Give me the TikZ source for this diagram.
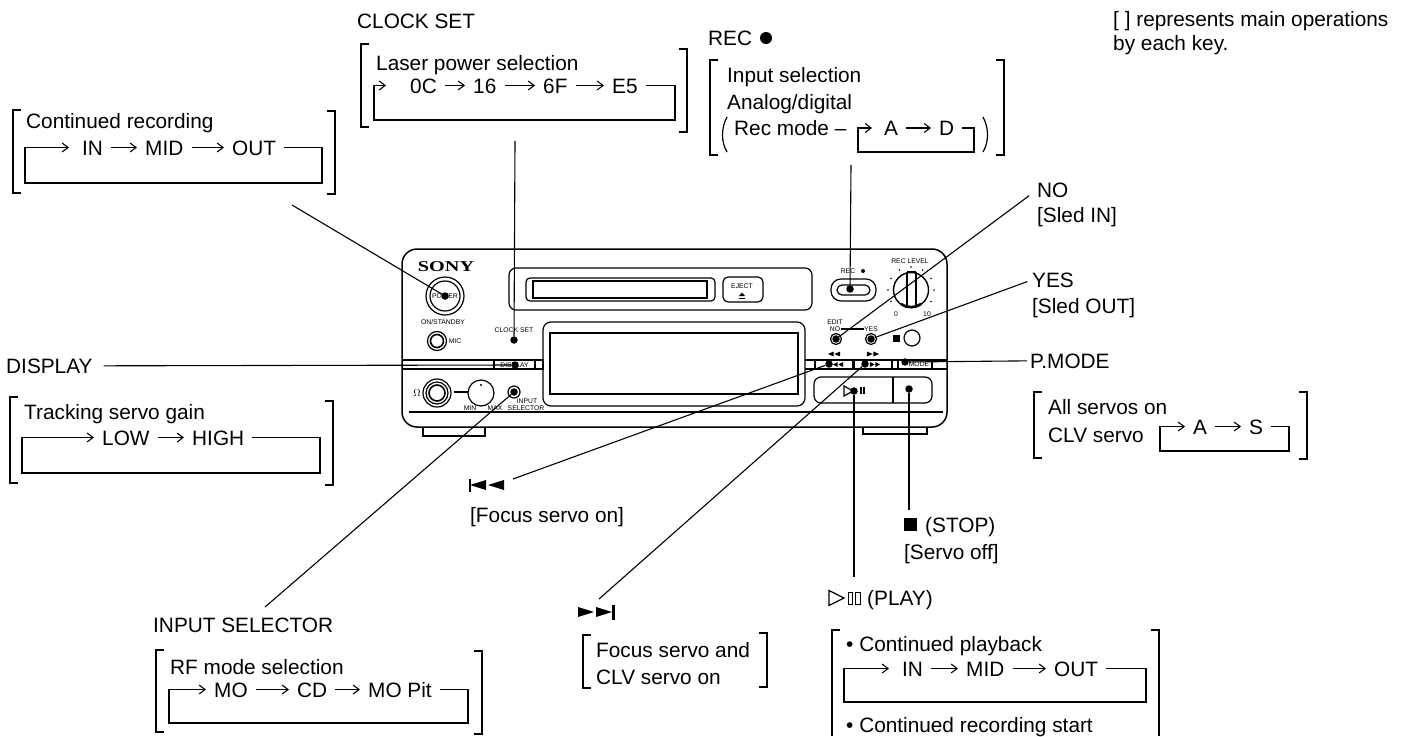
\documentclass[tikz,border=0pt]{standalone}
\usepackage{fontspec}
\setmainfont{Liberation Sans}
\newfontfamily\sonyfont{Liberation Serif}
\usetikzlibrary{arrows.meta}
\tikzstyle{lab}=[anchor=base west, inner sep=0pt, font=\fontsize{20.8}{24}\selectfont]
\tikzstyle{val}=[anchor=base west, inner xsep=8pt, inner ysep=0pt, text height=15pt, text depth=0pt,
  font=\fontsize{20.8}{24}\selectfont]
\tikzstyle{mini}=[inner sep=0pt, font=\fontsize{6.8}{8}\selectfont]
\tikzstyle{flow}=[-{Straight Barb[length=6pt,width=9pt]}, line width=1.1pt]
\tikzstyle{brk}=[line width=1.2pt]
\tikzstyle{lead}=[line width=1.1pt]
\tikzstyle{body}=[line width=1.2pt]
\tikzstyle{btn}=[circle, fill=black, inner sep=0pt, minimum size=7.5pt]
\tikzset{twinhead/.pic={
  \fill (-17,-5) -- (-1,0) -- (-17,5) -- cycle;
  \fill (1,-5) -- (17,0) -- (1,5) -- cycle;}}

\begin{document}
\begin{tikzpicture}[x=1pt,y=-1pt]
\useasboundingbox (0,0) rectangle (1407,736);

% square brackets round the notes
\foreach \l/\t/\b/\r/\u/\d in {13/110/193/335/111/194, 361/44/127/687/49/132, 710/60/155/1004/60/155,
    10/397/483/333/401/485, 156/650/732/482/651/734, 1034/392/458/1307/392/459, 583/635/688/767/633/687} {
  \draw[brk] (\l+8,\t) -- (\l,\t) -- (\l,\b) -- (\l+8,\b);
  \draw[brk] (\r-8,\u) -- (\r,\u) -- (\r,\d) -- (\r-8,\d);
}
\draw[brk] (840,630) -- (832,630) -- (832,736);
\draw[brk] (1151,630) -- (1159,630) -- (1159,736);

% continued recording note
\node[lab] (recT) at (26,128) {Continued recording};
\foreach \n/\x/\t in {recI/74/IN, recM/137/MID, recO/224/OUT}
  \node[val] (\n) at (\x,155) {\t};
\foreach \a/\b in {recI/recM, recM/recO} \draw[flow] (\a) -- (\b);
\coordinate (recSE) at (322,183);
\coordinate (recSW) at (25,183);
\draw[flow,shorten >=5pt] (recO.east) -| (recSE) -- (recSW) |- (recI.west);

% clock set note
\node[lab] (clkL) at (357,28) {CLOCK SET};
\node[lab] (clkT) at (376,70) {Laser power selection};
\foreach \n/\x/\t in {clkA/402/0C, clkB/465/16, clkC/535/6F, clkD/604/E5}
  \node[val] (\n) at (\x,93) {\t};
\foreach \a/\b in {clkA/clkB, clkB/clkC, clkC/clkD} \draw[flow] (\a) -- (\b);
\coordinate (clkSE) at (675,120);
\coordinate (clkSW) at (374,120);
\draw[flow,shorten >=16pt] (clkD.east) -| (clkSE) -- (clkSW) |- (clkA.west);

% rec note
\node[lab] (rcL) at (708,45) {REC};
\node[circle,fill=black,inner sep=0pt,minimum size=12pt] (rcDot) at (766,38) {};
\node[lab] (rcT) at (727,82) {Input selection};
\node[lab] (rcU) at (727,109) {Analog/digital};
\node[lab] (rcV) at (734,135) {Rec mode --};
\foreach \n/\x/\t in {rcA/876/A, rcD/931/D}
  \node[val] (\n) at (\x,135.5) {\t};
\draw[flow] (rcA) -- (rcD);
\coordinate (rcSE) at (974,152);
\coordinate (rcSW) at (858,152);
\draw[flow,shorten >=4pt] (rcD.east) -| (rcSE) -- (rcSW) |- (rcA.west);
\draw[brk] (727,117) .. controls (721,128) and (721,142) .. (727,152);
\draw[brk] (983,117) .. controls (989,128) and (989,142) .. (983,152);

% remark
\node[lab] (remA) at (1113,27) {[ ] represents main operations};
\node[lab] (remB) at (1113,50) {by each key.};

% right side labels
\node[lab] (labNo) at (1037,197) {NO};
\node[lab] (labNoS) at (1037,222) {[Sled IN]};
\node[lab] (labYes) at (1032,287) {YES};
\node[lab] (labYesS) at (1032,313) {[Sled OUT]};
\node[lab] (labMode) at (1030,368) {P.MODE};

% p.mode note
\node[lab] (modT) at (1048,414) {All servos on};
\node[lab] (modU) at (1048,442) {CLV servo};
\foreach \n/\x/\t in {modA/1185/A, modS/1241/S}
  \node[val] (\n) at (\x,434) {\t};
\draw[flow] (modA) -- (modS);
\coordinate (modSE) at (1289,451);
\coordinate (modSW) at (1160,451);
\draw[flow] (modS.east) -| (modSE) -- (modSW) |- (modA.west);

% display note
\node[lab] (labDisp) at (6,373) {DISPLAY};
\node[lab] (trkT) at (24,419) {Tracking servo gain};
\foreach \n/\x/\t in {trkL/94/LOW, trkH/184/HIGH}
  \node[val] (\n) at (\x,445) {\t};
\draw[flow] (trkL) -- (trkH);
\coordinate (trkSE) at (320,473);
\coordinate (trkSW) at (22,473);
\draw[flow] (trkH.east) -| (trkSE) -- (trkSW) |- (trkL.west);

% input selector note
\node[lab] (labInp) at (153,632) {INPUT SELECTOR};
\node[lab] (rfT) at (170,674) {RF mode selection};
\foreach \n/\x/\t in {rfA/206/MO, rfB/289/CD, rfC/360/MO Pit}
  \node[val] (\n) at (\x,697) {\t};
\foreach \a/\b in {rfA/rfB, rfB/rfC} \draw[flow] (\a) -- (\b);
\coordinate (rfSE) at (468,723);
\coordinate (rfSW) at (169,723);
\draw[flow] (rfC.east) -| (rfSE) -- (rfSW) |- (rfA.west);

% skip keys
\pic[xscale=-1] at (487,485) {twinhead};
\fill (468.5,479) rectangle (471,492);
\node[lab] (labPrev) at (470,522) {[Focus servo on]};
\pic at (595,612) {twinhead};
\fill (612,605) rectangle (614.5,620);
\node[lab] (focT) at (596,657) {Focus servo and};
\node[lab] (focU) at (596,684) {CLV servo on};

% stop
\node[fill=black,inner sep=0pt,minimum size=13pt] (stopBox) at (910.5,524) {};
\node[lab] (labStop) at (925,532) {(STOP)};
\node[lab] (labOff) at (904,559) {[Servo off]};

% play
\draw[line width=1.2pt] (829,590.5) -- (844,598) -- (829,605.5) -- cycle;
\draw[line width=0.9pt] (848,592) rectangle (852.5,604);
\draw[line width=0.9pt] (855,592) rectangle (860,604);
\node[lab] (labPlay) at (867,605) {(PLAY)};
\node[lab] (plyT) at (846,651) {\textbullet{} Continued playback};
\foreach \n/\x/\t in {plyI/894/IN, plyM/958/MID, plyO/1046/OUT}
  \node[val] (\n) at (\x,676) {\t};
\foreach \a/\b in {plyI/plyM, plyM/plyO} \draw[flow] (\a) -- (\b);
\coordinate (plySE) at (1146,702);
\coordinate (plySW) at (844,702);
\draw[flow,shorten >=5pt] (plyO.east) -| (plySE) -- (plySW) |- (plyI.west);
\node[lab] (plyU) at (846,732) {\textbullet{} Continued recording start};

% unit body
\draw[line width=1.5pt,rounded corners=15pt] (402,249) rectangle (947,427);
\draw[body] (409,412) -- (943,412);
\draw[body] (423,427) -- (423,436) -- (485,436) -- (485,427);
\draw[body] (863,427) -- (863,434) -- (927,434) -- (927,427);
\foreach \y in {360,369} {
  \draw[body] (402,\y) -- (543,\y);
  \draw[body] (805,\y) -- (947,\y);
}
\node[scale=1,xscale=1.35,font=\sonyfont\bfseries\fontsize{15}{18}\selectfont,inner sep=0pt] (sony) at (446,267) {SONY};

% power and mic
\draw[body] (445,296) circle (19);
\draw[body] (445,296) circle (15);
\node[mini] (txtPower) at (445,296) {POWER};
\node[mini] (txtStandby) at (443,322) {ON/STANDBY};
\draw[body] (437,341) circle (9.5);
\draw[line width=1.6pt] (437,341) circle (6.5);
\node[mini] (txtMic) at (455,341) {MIC};
\node[mini] (txtClock) at (514,330) {CLOCK SET};

% disc slot and eject
\draw[body,rounded corners=7pt] (509,268) rectangle (812,310);
\draw[body,rounded corners=4pt,fill=white] (526,278) rectangle (715,301);
\draw[line width=1.5pt] (533,281) rectangle (707,298);
\draw[body,rounded corners=5pt,fill=white] (723,277) rectangle (763,302);
\node[mini] (txtEject) at (742,286) {EJECT};
\fill (739,296) -- (742,292.5) -- (745,296) -- cycle;
\draw (739,298) -- (745,298);

% main window
\draw[body,rounded corners=8pt,fill=white] (543,322) rectangle (805,406);
\draw[body] (550,333) rectangle (798,394);

% rec button and level knob
\draw[body,rounded corners=10pt] (831,279) rectangle (876,301);
\draw[body,rounded corners=5pt] (837,285) rectangle (870,295);
\node[mini] (txtRec) at (848,271) {REC};
\fill (863,271) circle (2);
\draw[line width=1.4pt] (911,290) circle (17.5);
\draw[line width=2.6pt] (901,304) arc (125:55:17.5);
\draw[body] (907,272) -- (907,307);
\draw[line width=2pt] (916,272) -- (916,307);
\draw[body] (907,272) -- (916,272);
\foreach \a in {150,180,...,390} \fill (911,290) ++(\a:23) circle (0.9);
\node[mini] (txtLevel) at (910,261) {REC LEVEL};
\node[mini] (txtZero) at (896,314) {0};
\node[mini] (txtTen) at (927,314) {10};

% edit keys
\node[mini] (txtEdit) at (835,322) {EDIT};
\node[mini] (txtNo) at (835,329) {NO};
\node[mini] (txtYes) at (871,329) {YES};
\draw[body] (txtNo) ++(6,0) -- (txtYes.west);
\draw[body] (836,339) circle (5.5);
\draw[body] (871,339) circle (5.5);
\fill (892.5,334.5) rectangle (899.5,341.5);
\draw[body] (912,338) circle (8);

% band keys
\foreach \a/\b in {494/535, 815/853, 854/892, 898/932} \draw[body] (\a,360) rectangle (\b,369);
\draw[body] (535,360) rectangle (543,369);
\node[mini,fill=white,inner xsep=1pt] (txtDisp) at (514.5,365) {DISPLAY};
\node[mini] (txtMode) at (919,364.5) {MODE};
\pic[xscale=-.36,yscale=.5] at (834,354) {twinhead};
\pic[xscale=.36,yscale=.5] at (873,354) {twinhead};
\pic[xscale=-.3,yscale=.5] at (838,364.5) {twinhead};
\pic[xscale=.3,yscale=.5] at (875,364.5) {twinhead};

% play and stop keys
\draw[body,rounded corners=7pt] (814,377) rectangle (932,403);
\draw[body] (893,377) -- (893,403);
\draw[body] (844,386) -- (853,391) -- (844,396) -- cycle;
\draw[line width=1.2pt] (861,387) -- (861,394);
\draw[line width=1.2pt] (864,387) -- (864,394);

% headphone, volume and selector
\node[mini,font=\fontsize{10}{12}\selectfont] (txtOhm) at (417,393) {$\Omega$};
\draw[body] (437,393) circle (14);
\draw[body] (437,393) circle (11);
\draw[line width=1.6pt] (437,393) circle (8);
\draw[body] (454,392) -- (468,392);
\draw[body] (481,393) circle (13);
\fill (481,385) circle (1.2);
\node[mini] (txtMin) at (470,408) {MIN};
\node[mini] (txtMax) at (495,408) {MAX};
\node[mini] (txtInp) at (527,401) {INPUT};
\node[mini] (txtSel) at (526,408) {SELECTOR};
\draw[body] (514,392) circle (6);

% keys and their leaders
\foreach \n/\x/\y in {kPower/445/296, kClock/514/340, kDisp/515/365, kInp/514/392, kRec/850/289,
    kNo/836/339, kYes/871/339, kPrev/829/364, kNext/865/364, kMode/905/362, kPlay/854/391, kStop/909/389}
  \node[btn] (\n) at (\x,\y) {};
\foreach \n/\x/\y in {endPower/292/205, endClock/515/141, endInp/265/607, endRec/851/165,
    endPrev/513/479, endNext/599/599, endPlay/854/577, endStop/909/510}
  \coordinate (\n) at (\x,\y);
\foreach \a/\b in {endPower/kPower, endClock/kClock, endInp/kInp, endRec/kRec,
    endPrev/kPrev, endNext/kNext, endPlay/kPlay, endStop/kStop}
  \draw[lead] (\a) -- (\b);
\draw[lead,shorten >=10pt] (kNo) -- (labNo.west);
\draw[lead,shorten >=5pt] (kYes) -- (labYes.west);
\draw[lead,shorten >=3pt] (kMode) -- (labMode.west);
\draw[lead,shorten >=11pt] (kDisp) -- (labDisp.east);
\end{tikzpicture}
\end{document}
